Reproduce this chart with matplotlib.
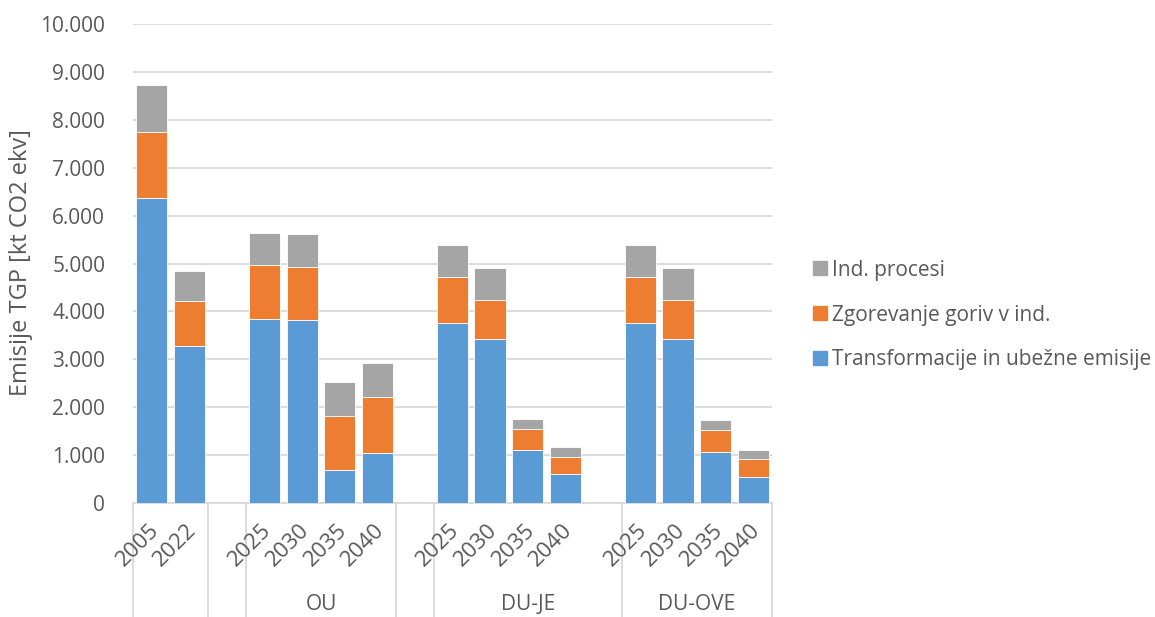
import matplotlib
matplotlib.use("Agg")
from matplotlib import pyplot as plt
from matplotlib.patches import Patch

plt.rcParams['font.family'] = ['Open Sans', 'DejaVu Sans']

# podatki (kt CO2 ekv)
skupine = ["", "", "OU", "", "DU-JE", "DU-OVE"]
leta = [["2005", "2022"], [""], ["2025", "2030", "2035", "2040"], [""],
        ["2025", "2030", "2035", "2040", ""], ["2025", "2030", "2035", "2040"]]

transformacije = [6370, 3270, 0, 3840, 3830, 690, 1040, 0, 3760, 3420, 1100, 600, 0, 3760, 3420, 1060, 550]
zgorevanje = [1380, 940, 0, 1130, 1100, 1130, 1180, 0, 950, 810, 450, 370, 0, 950, 810, 470, 360]
procesi = [970, 640, 0, 660, 680, 700, 700, 0, 670, 680, 200, 200, 0, 670, 680, 200, 200]

modra = "#5B9BD5"
oranzna = "#ED7D31"
siva = "#A5A5A5"
tekst = "#595959"
mreza = "#D9D9D9"

fig = plt.figure(figsize=(11.55, 6.17), dpi=100)
ax = fig.add_axes([133/1155, 1-503/617, (772-133)/1155, (503-24)/617])

x = list(range(len(transformacije)))
spodaj2 = [a + b for a, b in zip(transformacije, zgorevanje)]
sirina = 0.83
ax.bar(x, transformacije, sirina, color=modra, edgecolor="white", linewidth=0.6, zorder=3)
ax.bar(x, zgorevanje, sirina, bottom=transformacije, color=oranzna, edgecolor="white", linewidth=0.6, zorder=3)
ax.bar(x, procesi, sirina, bottom=spodaj2, color=siva, edgecolor="white", linewidth=0.6, zorder=3)

ax.set_xlim(-0.5, len(x) - 0.5)
ax.set_ylim(0, 10000)
ax.set_yticks(range(0, 10001, 1000))
ax.set_yticklabels(["0" if v == 0 else "{:,}".format(v).replace(",", ".") for v in range(0, 10001, 1000)],
                   fontsize=15, color=tekst)
ax.tick_params(axis="y", length=0, pad=20)
ax.grid(axis="y", color=mreza, linewidth=1.3, zorder=0)
for s in ["top", "right", "left"]:
    ax.spines[s].set_visible(False)
ax.spines["bottom"].set_color(mreza)
ax.spines["bottom"].set_linewidth(1.3)
ax.set_xticks([])
fig.text(21/1155, 1-263/617, "Emisije TGP [kt CO2 ekv]", rotation=90, ha="center", va="center",
         fontsize=17, color=tekst)

# vecnivojska os
poz = -0.5
meje = [poz]
for g, lt in zip(skupine, leta):
    zac = poz
    for l in lt:
        c = poz + 0.5
        if l:
            ax.annotate(l, xy=(c + 0.1, 0), xycoords=("data", "axes fraction"),
                        xytext=(0, -24), textcoords="offset pixels",
                        rotation=45, ha="right", va="center", rotation_mode="anchor",
                        fontsize=16, color=tekst, annotation_clip=False)
        poz += 1
    meje.append(poz)
    if g:
        ax.annotate(g, xy=((zac + poz) / 2, 0), xycoords=("data", "axes fraction"),
                    xytext=(0, -101), textcoords="offset pixels",
                    ha="center", va="center", fontsize=15, color=tekst, annotation_clip=False)

for m in meje:
    ax.plot([m, m], [0, -0.25], transform=ax.get_xaxis_transform(), color=mreza,
            linewidth=1.3, clip_on=False)

rocke = [Patch(color=siva), Patch(color=oranzna), Patch(color=modra)]
imena = ["Ind. procesi", "Zgorevanje goriv v ind.", "Transformacije in ubežne emisije"]
leg = fig.legend(rocke, imena, loc="center left", bbox_to_anchor=(813/1155, 1-315/617),
                 frameon=False, fontsize=15, handlelength=0.65, handleheight=0.65,
                 handletextpad=0.25, labelspacing=1.15, borderpad=0, borderaxespad=0)
for t in leg.get_texts():
    t.set_color(tekst)

fig.savefig("out.png", dpi=100)
